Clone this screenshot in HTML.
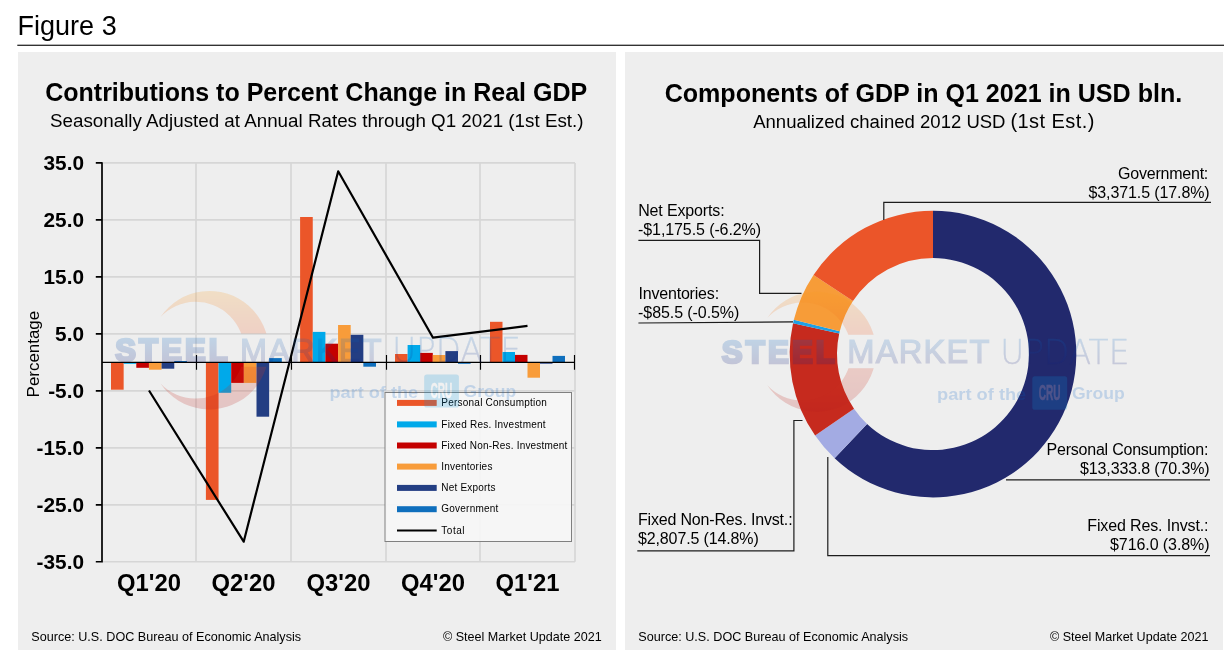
<!DOCTYPE html>
<html lang="en"><head><meta charset="utf-8"><title>Figure 3</title>
<style>html,body{margin:0;padding:0;background:#fff}svg{display:block}text{font-family:"Liberation Sans",Arial,sans-serif}</style></head><body>
<svg width="1230" height="658" viewBox="0 0 1230 658">
<defs>
<linearGradient id="cres" gradientUnits="userSpaceOnUse" x1="0" y1="291" x2="0" y2="409.5"><stop offset="0" stop-color="#f8a026"/><stop offset="0.38" stop-color="#f35826"/><stop offset="1" stop-color="#b82020"/></linearGradient>
<linearGradient id="wtx" gradientUnits="userSpaceOnUse" x1="0" y1="338" x2="0" y2="363"><stop offset="0" stop-color="#0c6ac4"/><stop offset="1" stop-color="#151f7c"/></linearGradient>
<clipPath id="cc"><rect x="140" y="280" width="140" height="53.4"/><rect x="140" y="366.7" width="140" height="60"/></clipPath>
<g id="wm">
<path fill="url(#cres)" clip-path="url(#cc)" d="M160.5 317A59.2 59.2 0 1 1 160.5 383.4A48.4 48.4 0 1 0 160.5 317Z"/>
<text x="115.3" y="361.2" font-size="31" font-weight="bold" fill="url(#wtx)" stroke="url(#wtx)" stroke-width="2.6" stroke-linejoin="miter" textLength="112.4" lengthAdjust="spacing">STEEL</text>
<text x="240.0" y="361.8" font-size="32.5" fill="url(#wtx)" stroke="url(#wtx)" stroke-width="1.2" opacity="0.85" textLength="141.6" lengthAdjust="spacing">MARKET</text>
<text x="392.2" y="362.3" font-size="33.4" font-weight="200" fill="url(#wtx)" stroke="url(#wtx)" stroke-width="0.35" opacity="0.9" textLength="128.6" lengthAdjust="spacingAndGlyphs" style="font-family:'DejaVu Sans','Liberation Sans',sans-serif">UPDATE</text>
<text x="329.4" y="397.5" font-size="16.4" font-weight="bold" fill="#005fc8" opacity="0.95" textLength="88.8" lengthAdjust="spacingAndGlyphs">part of the</text>
<rect x="424.2" y="374.5" width="34.7" height="33.1" rx="2.6" fill="#0a96dc"/>
<text x="430.5" y="398.0" font-size="21.6" font-weight="bold" fill="#ffffff" stroke="#ffffff" stroke-width="0.4" textLength="21.8" lengthAdjust="spacingAndGlyphs">CRU</text>
<text x="463.6" y="397.1" font-size="16.4" font-weight="bold" fill="#005fc8" opacity="0.95" textLength="52.6" lengthAdjust="spacingAndGlyphs">Group</text>
</g>
</defs>
<rect width="1230" height="658" fill="#ffffff"/>
<text x="17.6" y="34.5" font-size="27" fill="#000">Figure 3</text>
<rect x="17.3" y="44.7" width="1206.7" height="1.1" fill="#000"/>
<rect x="18" y="52" width="598" height="598" fill="#eeeeee"/>
<rect x="625" y="52" width="598" height="598" fill="#eeeeee"/>
<text x="45.2" y="101" font-size="25.1" font-weight="bold" textLength="542" lengthAdjust="spacingAndGlyphs">Contributions to Percent Change in Real GDP</text>
<text x="50" y="126.9" font-size="18.3" textLength="533.5" lengthAdjust="spacingAndGlyphs">Seasonally Adjusted at Annual Rates through Q1 2021 (1st Est.)</text>
<path d="M102.0 162.95H575.0M102.0 219.92H575.0M102.0 276.89H575.0M102.0 333.86H575.0M102.0 390.84H575.0M102.0 447.81H575.0M102.0 504.78H575.0M102.0 561.75H575.0M196.0 162.95V561.75M291.0 162.95V561.75M386.0 162.95V561.75M480.0 162.95V561.75M575.0 162.95V561.75" stroke="#d6d6d6" stroke-width="1.7" fill="none"/>
<rect x="111.00" y="362.4" width="12.65" height="27.3" fill="#eb5629"/>
<rect x="123.65" y="362.4" width="12.65" height="1.4" fill="#00a9ea"/>
<rect x="136.30" y="362.4" width="12.65" height="5.4" fill="#c40000"/>
<rect x="148.95" y="362.4" width="12.65" height="7.3" fill="#f89c3a"/>
<rect x="161.60" y="362.4" width="12.65" height="6.3" fill="#233e83"/>
<rect x="174.25" y="361.0" width="12.65" height="1.4" fill="#0f6fbd"/>
<rect x="205.90" y="362.4" width="12.65" height="137.5" fill="#eb5629"/>
<rect x="218.55" y="362.4" width="12.65" height="30.4" fill="#00a9ea"/>
<rect x="231.20" y="362.4" width="12.65" height="20.5" fill="#c40000"/>
<rect x="243.85" y="362.4" width="12.65" height="20.5" fill="#f89c3a"/>
<rect x="256.50" y="362.4" width="12.65" height="54.3" fill="#233e83"/>
<rect x="269.15" y="358.1" width="12.65" height="4.3" fill="#0f6fbd"/>
<rect x="300.10" y="217.0" width="12.65" height="145.4" fill="#eb5629"/>
<rect x="312.75" y="331.9" width="12.65" height="30.5" fill="#00a9ea"/>
<rect x="325.40" y="343.7" width="12.65" height="18.7" fill="#c40000"/>
<rect x="338.05" y="325.0" width="12.65" height="37.4" fill="#f89c3a"/>
<rect x="350.70" y="334.8" width="12.65" height="27.6" fill="#233e83"/>
<rect x="363.35" y="362.4" width="12.65" height="4.3" fill="#0f6fbd"/>
<rect x="395.00" y="354.0" width="12.6" height="8.4" fill="#eb5629"/>
<rect x="407.60" y="345.0" width="12.6" height="17.4" fill="#00a9ea"/>
<rect x="420.20" y="352.9" width="12.6" height="9.5" fill="#c40000"/>
<rect x="432.80" y="355.0" width="12.6" height="7.4" fill="#f89c3a"/>
<rect x="445.40" y="351.1" width="12.6" height="11.3" fill="#233e83"/>
<rect x="458.00" y="362.4" width="12.6" height="1.4" fill="#0f6fbd"/>
<rect x="490.00" y="321.8" width="12.5" height="40.6" fill="#eb5629"/>
<rect x="502.50" y="352.0" width="12.5" height="10.4" fill="#00a9ea"/>
<rect x="515.00" y="354.9" width="12.5" height="7.5" fill="#c40000"/>
<rect x="527.50" y="362.4" width="12.5" height="15.3" fill="#f89c3a"/>
<rect x="540.00" y="362.4" width="12.5" height="1.3" fill="#233e83"/>
<rect x="552.50" y="355.9" width="12.5" height="6.5" fill="#0f6fbd"/>
<path d="M102.0 162.14999999999998V562.55M95.8 162.95H102.0M95.8 219.92H102.0M95.8 276.89H102.0M95.8 333.86H102.0M95.8 390.84H102.0M95.8 447.81H102.0M95.8 504.78H102.0M95.8 561.75H102.0" stroke="#000" stroke-width="1.7" fill="none"/>
<path d="M102.0 362.4H575.0M196.5 355.09999999999997V369.7M291.5 355.09999999999997V369.7M386.5 355.09999999999997V369.7M480.5 355.09999999999997V369.7M574.5 355.09999999999997V369.7" stroke="#000" stroke-width="1.15" fill="none"/>
<polyline points="149,390.5 243.7,541.7 338.2,171.3 433,337.7 527.5,325.9" fill="none" stroke="#000" stroke-width="2.2" stroke-linejoin="round"/>
<text x="84" y="170.10" font-size="20.8" font-weight="bold" text-anchor="end">35.0</text>
<text x="84" y="227.07" font-size="20.8" font-weight="bold" text-anchor="end">25.0</text>
<text x="84" y="284.04" font-size="20.8" font-weight="bold" text-anchor="end">15.0</text>
<text x="84" y="341.01" font-size="20.8" font-weight="bold" text-anchor="end">5.0</text>
<text x="84" y="397.99" font-size="20.8" font-weight="bold" text-anchor="end">-5.0</text>
<text x="84" y="454.96" font-size="20.8" font-weight="bold" text-anchor="end">-15.0</text>
<text x="84" y="511.93" font-size="20.8" font-weight="bold" text-anchor="end">-25.0</text>
<text x="84" y="568.90" font-size="20.8" font-weight="bold" text-anchor="end">-35.0</text>
<text transform="translate(38.9 397.4) rotate(-90)" font-size="16.8" textLength="86.6" lengthAdjust="spacingAndGlyphs">Percentage</text>
<text x="149.0" y="590.6" font-size="23.8" font-weight="bold" text-anchor="middle">Q1'20</text>
<text x="243.5" y="590.6" font-size="23.8" font-weight="bold" text-anchor="middle">Q2'20</text>
<text x="338.5" y="590.6" font-size="23.8" font-weight="bold" text-anchor="middle">Q3'20</text>
<text x="433.0" y="590.6" font-size="23.8" font-weight="bold" text-anchor="middle">Q4'20</text>
<text x="527.5" y="590.6" font-size="23.8" font-weight="bold" text-anchor="middle">Q1'21</text>
<rect x="385" y="392.5" width="186.5" height="149" fill="#f5f5f5" fill-opacity="0.95" stroke="#808080" stroke-width="1"/>
<rect x="397" y="399.9" width="39.7" height="6" fill="#eb5629"/>
<text x="441.3" y="406.1" font-size="10" textLength="105.5" lengthAdjust="spacing">Personal Consumption</text>
<rect x="397" y="421.4" width="39.7" height="6" fill="#00a9ea"/>
<text x="441.3" y="427.6" font-size="10" textLength="104.3" lengthAdjust="spacing">Fixed Res. Investment</text>
<rect x="397" y="442.5" width="39.7" height="6" fill="#c40000"/>
<text x="441.3" y="448.7" font-size="10" textLength="126.1" lengthAdjust="spacing">Fixed Non-Res. Investment</text>
<rect x="397" y="463.6" width="39.7" height="6" fill="#f89c3a"/>
<text x="441.3" y="469.8" font-size="10" textLength="51.099999999999994" lengthAdjust="spacing">Inventories</text>
<rect x="397" y="484.9" width="39.7" height="6" fill="#233e83"/>
<text x="441.3" y="491.1" font-size="10" textLength="54.099999999999994" lengthAdjust="spacing">Net Exports</text>
<rect x="397" y="506.2" width="39.7" height="6" fill="#0f6fbd"/>
<text x="441.3" y="512.4" font-size="10" textLength="57.099999999999994" lengthAdjust="spacing">Government</text>
<path d="M397 530.5H436.7" stroke="#000" stroke-width="1.8"/>
<text x="441.3" y="533.8" font-size="10" textLength="23.2" lengthAdjust="spacing">Total</text>
<text x="31.3" y="640.9" font-size="13.6" textLength="269.8" lengthAdjust="spacingAndGlyphs">Source: U.S. DOC Bureau of Economic Analysis</text>
<text x="442.9" y="640.9" font-size="13.6" textLength="158.8" lengthAdjust="spacingAndGlyphs">© Steel Market Update 2021</text>
<use href="#wm" opacity="0.2"/>
<text x="664.7" y="101.7" font-size="25.1" font-weight="bold" textLength="517.5" lengthAdjust="spacingAndGlyphs">Components of GDP in Q1 2021 in USD bln.</text>
<text x="753.2" y="127.8" font-size="18" textLength="252.3" lengthAdjust="spacingAndGlyphs">Annualized chained 2012 USD</text>
<text x="1010.4" y="127.8" font-size="20" textLength="84" lengthAdjust="spacing">(1st Est.)</text>
<path d="M933.00 210.80A143.3 143.3 0 1 1 834.60 458.27L867.08 423.89A96.0 96.0 0 1 0 933.00 258.10Z" fill="#22296d"/>
<path d="M834.60 458.27A143.3 143.3 0 0 1 815.10 435.55L854.01 408.66A96.0 96.0 0 0 0 867.08 423.89Z" fill="#a3abe3"/>
<path d="M815.10 435.55A143.3 143.3 0 0 1 793.04 323.34L839.24 333.49A96.0 96.0 0 0 0 854.01 408.66Z" fill="#c62a1e"/>
<path d="M793.04 323.34A143.3 143.3 0 0 1 793.85 319.85L839.78 331.16A96.0 96.0 0 0 0 839.24 333.49Z" fill="#1ea0e6"/>
<path d="M793.85 319.85A143.3 143.3 0 0 1 813.53 274.97L852.97 301.09A96.0 96.0 0 0 0 839.78 331.16Z" fill="#f79c38"/>
<path d="M813.53 274.97A143.3 143.3 0 0 1 933.00 210.80L933.00 258.10A96.0 96.0 0 0 0 852.97 301.09Z" fill="#eb5529"/>
<path d="M883.8 220V202.3H1211 M638.4 240.4H759.6V293.4H801.5 M638.4 323L793 321.9 M1006 479.9H1210 M827.8 457V555.6H1210 M637.3 550.9H793.9V420.5H802.5" stroke="#1c1c1c" stroke-width="1.2" fill="none"/>
<text x="1118.1" y="178.6" font-size="16" textLength="90.2" lengthAdjust="spacing">Government:</text>
<text x="1088.5" y="197.6" font-size="16" textLength="121.2" lengthAdjust="spacing">$3,371.5 (17.8%)</text>
<text x="638.2" y="215.7" font-size="16" textLength="86.4" lengthAdjust="spacing">Net Exports:</text>
<text x="638.1" y="234.7" font-size="16" textLength="122.9" lengthAdjust="spacing">-$1,175.5 (-6.2%)</text>
<text x="638.4" y="298.6" font-size="16" textLength="80.7" lengthAdjust="spacing">Inventories:</text>
<text x="638.1" y="317.6" font-size="16" textLength="101.2" lengthAdjust="spacing">-$85.5 (-0.5%)</text>
<text x="1046.6" y="454.8" font-size="16" textLength="161.8" lengthAdjust="spacing">Personal Consumption:</text>
<text x="1080.0" y="473.6" font-size="16" textLength="129.6" lengthAdjust="spacing">$13,333.8 (70.3%)</text>
<text x="1087.3" y="531.0" font-size="16" textLength="121.2" lengthAdjust="spacing">Fixed Res. Invst.:</text>
<text x="1110.0" y="549.9" font-size="16" textLength="99.6" lengthAdjust="spacing">$716.0 (3.8%)</text>
<text x="637.9" y="525.2" font-size="16" textLength="154.7" lengthAdjust="spacing">Fixed Non-Res. Invst.:</text>
<text x="638.0" y="544.4000000000001" font-size="16" textLength="120.8" lengthAdjust="spacing">$2,807.5 (14.8%)</text>
<text x="638.3" y="640.9" font-size="13.6" textLength="269.8" lengthAdjust="spacingAndGlyphs">Source: U.S. DOC Bureau of Economic Analysis</text>
<text x="1049.9" y="640.9" font-size="13.6" textLength="158.6" lengthAdjust="spacingAndGlyphs">© Steel Market Update 2021</text>
<use href="#wm" transform="translate(606.0 -3.24) scale(1.005 1.0134)" opacity="0.2"/>
</svg></body></html>
